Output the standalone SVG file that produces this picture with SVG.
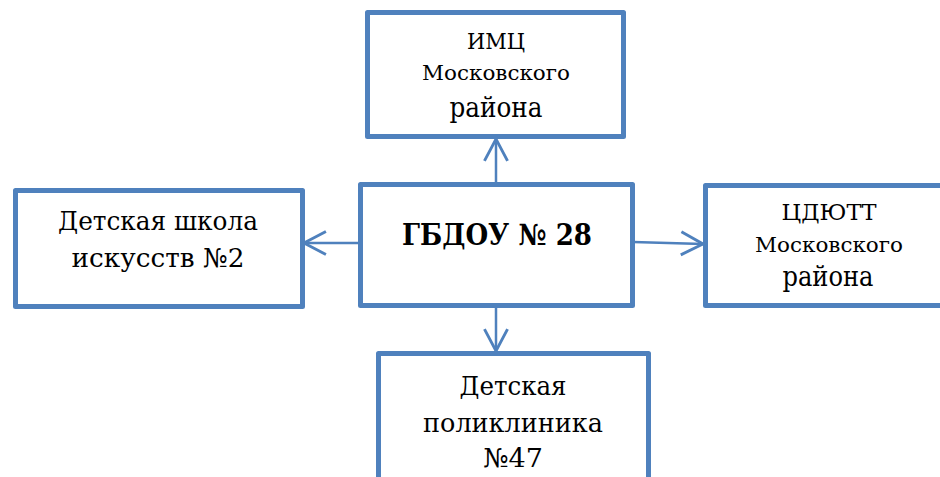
<svg xmlns="http://www.w3.org/2000/svg" width="940" height="477" viewBox="0 0 940 477">
<defs>
<style>
.box{fill:#fff;stroke:#4f81bd;stroke-width:5;stroke-linejoin:round}
.t{font-family:'DejaVu Serif','Liberation Serif',serif;fill:#000;text-anchor:middle}
.b{font-weight:bold}
.con{stroke:#4f81bd;stroke-width:2.5;fill:none}
</style>
<marker id="ah" markerUnits="userSpaceOnUse" markerWidth="30" markerHeight="30" viewBox="-22 -13 26 26" refX="0" refY="0" orient="auto">
<path d="M-19,-10 L0,0 L-19,10" fill="none" stroke="#4f81bd" stroke-width="2.5"/>
</marker>
</defs>
<rect width="940" height="477" fill="#fff"/>
<g id="connectors">
<line class="con" x1="496" y1="184" x2="496" y2="139" marker-end="url(#ah)"/>
<line class="con" x1="360" y1="243" x2="304" y2="243" marker-end="url(#ah)"/>
<line class="con" x1="633" y1="242" x2="703" y2="244" marker-end="url(#ah)"/>
<line class="con" x1="496" y1="306" x2="496" y2="351" marker-end="url(#ah)"/>
</g>
<g id="imc">
<rect class="box" x="367.5" y="12.5" width="256" height="124"/>
<text class="t" x="496" y="49" font-size="23" textLength="58" lengthAdjust="spacingAndGlyphs">ИМЦ</text>
<text class="t" x="496" y="80" font-size="21" textLength="148" lengthAdjust="spacingAndGlyphs">Московского</text>
<text class="t" x="496" y="117" font-size="27" textLength="93" lengthAdjust="spacingAndGlyphs">района</text>
</g>
<g id="gbdou">
<rect class="box" x="360.5" y="184.5" width="272" height="121"/>
<text class="t b" x="497" y="245" font-size="29" textLength="190" lengthAdjust="spacingAndGlyphs">ГБДОУ № 28</text>
</g>
<g id="school">
<rect class="box" x="15.5" y="190.5" width="287" height="116"/>
<text class="t" x="158" y="230" font-size="26" textLength="200" lengthAdjust="spacingAndGlyphs">Детская школа</text>
<text class="t" x="158" y="267" font-size="26" textLength="173" lengthAdjust="spacingAndGlyphs">искусств №2</text>
</g>
<g id="cdyutt">
<rect class="box" x="705.5" y="185.5" width="250" height="120"/>
<text class="t" x="829" y="220" font-size="23" textLength="95" lengthAdjust="spacingAndGlyphs">ЦДЮТТ</text>
<text class="t" x="829" y="252" font-size="21" textLength="148" lengthAdjust="spacingAndGlyphs">Московского</text>
<text class="t" x="828" y="286" font-size="27" textLength="91" lengthAdjust="spacingAndGlyphs">района</text>
</g>
<g id="clinic">
<rect class="box" x="378.5" y="353.5" width="270" height="140"/>
<text class="t" x="513" y="395" font-size="26" textLength="107" lengthAdjust="spacingAndGlyphs">Детская</text>
<text class="t" x="513" y="432" font-size="26" textLength="180" lengthAdjust="spacingAndGlyphs">поликлиника</text>
<text class="t" x="513" y="467" font-size="26" textLength="60" lengthAdjust="spacingAndGlyphs">№47</text>
</g>
</svg>
